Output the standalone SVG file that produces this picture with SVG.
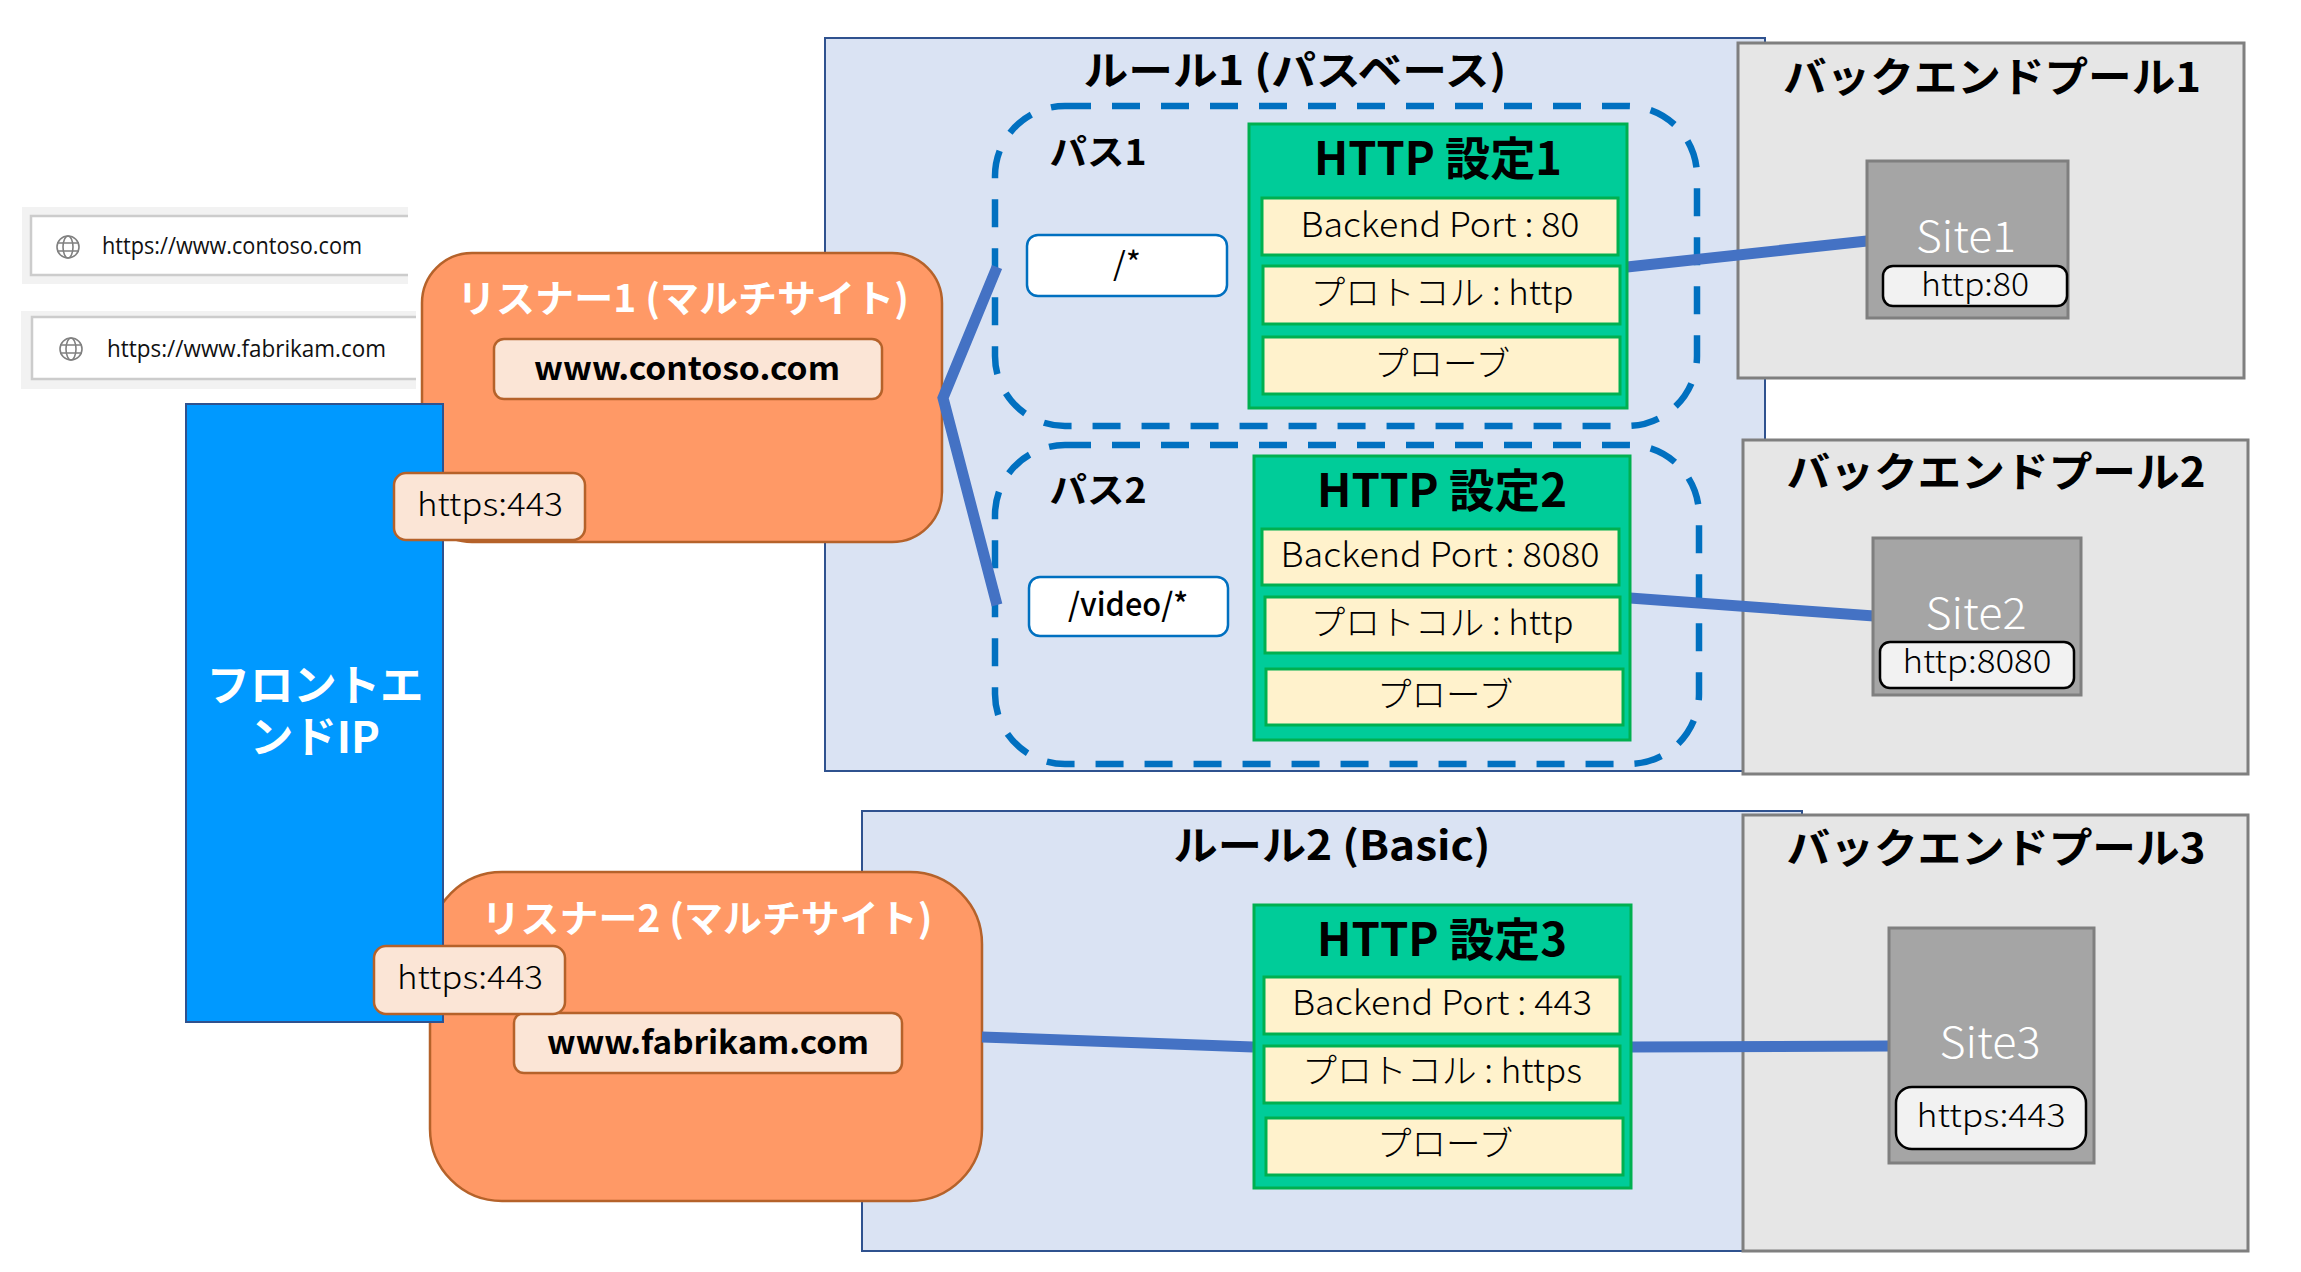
<svg xmlns="http://www.w3.org/2000/svg" width="2301" height="1272" viewBox="0 0 2301 1272">
<style>
text{font-family:"Noto Sans CJK JP","Noto Sans",sans-serif;text-anchor:middle;fill:#000}
.w{fill:#fff}
.b{font-weight:700}
.l{font-weight:300}
.rule{fill:#DAE3F3;stroke:#2F528F;stroke-width:2}
.pool{fill:#E6E6E6;stroke:#7F7F7F;stroke-width:3}
.site{fill:#A5A5A5;stroke:#7F7F7F;stroke-width:3}
.port{fill:#F2F2F2;stroke:#000;stroke-width:2.5}
.lis{fill:#FF9966;stroke:#B5622A;stroke-width:2.5}
.host{fill:#FBE5D6;stroke:#B5622A;stroke-width:2.5}
.dash{fill:none;stroke:#0070C0;stroke-width:6.5;stroke-dasharray:28 21;stroke-dashoffset:2}
.http{fill:#00CC99;stroke:#00B050;stroke-width:3}
.set{fill:#FFF2CC;stroke:#00B050;stroke-width:3}
.pat{fill:#fff;stroke:#0070C0;stroke-width:2.5}
.con{fill:none;stroke:#4472C4;stroke-width:11}
.bg{fill:#F2F2F2}
.bar{fill:#fff}
.edge{fill:none;stroke:#CCCCCC;stroke-width:2.5}
.url{font-family:"Open Sans","Noto Sans",sans-serif;text-anchor:start;fill:#111}
.gl{fill:none;stroke:#808080;stroke-width:1.6}
</style>
<g id="rule1"><rect class="rule" x="825" y="38" width="940" height="733"/><text class="b" x="1295" y="85" font-size="40" textLength="423" lengthAdjust="spacingAndGlyphs">ルール1 (パスベース)</text></g>
<g id="rule2"><rect class="rule" x="862" y="811" width="940" height="440"/><text class="b" x="1332" y="860" font-size="40" textLength="317" lengthAdjust="spacingAndGlyphs">ルール2 (Basic)</text></g>
<g id="pool1"><rect class="pool" x="1738" y="43" width="506" height="335"/><text class="b" x="1992" y="92" font-size="41" textLength="418" lengthAdjust="spacingAndGlyphs">バックエンドプール1</text></g>
<g id="pool2"><rect class="pool" x="1743" y="440" width="505" height="334"/><text class="b" x="1996" y="487" font-size="41" textLength="419" lengthAdjust="spacingAndGlyphs">バックエンドプール2</text></g>
<g id="pool3"><rect class="pool" x="1743" y="815" width="505" height="436"/><text class="b" x="1996" y="863" font-size="41" textLength="419" lengthAdjust="spacingAndGlyphs">バックエンドプール3</text></g>
<g id="path1"><rect class="dash" x="995" y="106" width="702" height="320" rx="70" ry="70"/><text class="b" x="1098" y="165" font-size="35" textLength="97" lengthAdjust="spacingAndGlyphs">パス1</text></g>
<g id="path2"><rect class="dash" x="995" y="445" width="704" height="319" rx="70" ry="70"/><text class="b" x="1098" y="503" font-size="35" textLength="97" lengthAdjust="spacingAndGlyphs">パス2</text></g>
<g id="url1"><rect class="bg" x="22" y="207" width="386" height="77"/><rect class="bar" x="31" y="216" width="377" height="59"/><path class="edge" d="M408 216H31V275H408"/><circle class="gl" cx="68" cy="247" r="11"/><ellipse class="gl" cx="68" cy="247" rx="5" ry="11"/><path class="gl" d="M57 243H79M57 251H79"/><text class="url" x="102" y="254" font-size="23" textLength="260" lengthAdjust="spacingAndGlyphs">https://www.contoso.com</text></g>
<g id="url2"><rect class="bg" x="21" y="311" width="395" height="78"/><rect class="bar" x="32" y="317" width="384" height="62"/><path class="edge" d="M416 317H32V379H416"/><circle class="gl" cx="71" cy="349" r="11"/><ellipse class="gl" cx="71" cy="349" rx="5" ry="11"/><path class="gl" d="M60 345H82M60 353H82"/><text class="url" x="107" y="357" font-size="23" textLength="279" lengthAdjust="spacingAndGlyphs">https://www.fabrikam.com</text></g>
<g id="listener1"><rect class="lis" x="422" y="253" width="520" height="289" rx="50" ry="50"/><text class="w b" x="683" y="312" font-size="38" textLength="452" lengthAdjust="spacingAndGlyphs">リスナー1 (マルチサイト)</text><rect class="host" x="494" y="339" width="388" height="60" rx="10"/><text class="b" x="687" y="380" font-size="32" textLength="306" lengthAdjust="spacingAndGlyphs">www.contoso.com</text></g>
<g id="listener2"><rect class="lis" x="430" y="872" width="552" height="329" rx="72" ry="72"/><text class="w b" x="707" y="932" font-size="38" textLength="451" lengthAdjust="spacingAndGlyphs">リスナー2 (マルチサイト)</text><rect class="host" x="514" y="1013" width="388" height="60" rx="10"/><text class="b" x="708" y="1054" font-size="32" textLength="322" lengthAdjust="spacingAndGlyphs">www.fabrikam.com</text></g>
<g id="frontend"><rect x="186" y="404" width="257" height="618" fill="#0099FF" stroke="#2F528F" stroke-width="2"/><text class="w b" x="315" y="701" font-size="43" textLength="217" lengthAdjust="spacingAndGlyphs">フロントエ</text><text class="w b" x="315" y="753" font-size="43" textLength="130" lengthAdjust="spacingAndGlyphs">ンドIP</text></g>
<g id="connectors">
<polyline class="con" points="997,267 943,398 997,605"/>
<line class="con" x1="1627" y1="267" x2="1867" y2="241"/>
<line class="con" x1="1630" y1="598" x2="1874" y2="616"/>
<line class="con" x1="982" y1="1037" x2="1253" y2="1047"/>
<line class="con" x1="1632" y1="1047" x2="1889" y2="1046"/>
</g>
<g id="port1"><rect class="host" x="394" y="473" width="191" height="67" rx="12"/><text x="490" y="516" font-size="32" class="l" textLength="146" lengthAdjust="spacingAndGlyphs">https:443</text></g>
<g id="port2"><rect class="host" x="374" y="946" width="191" height="68" rx="12"/><text x="470" y="989" font-size="32" class="l" textLength="146" lengthAdjust="spacingAndGlyphs">https:443</text></g>
<g id="pattern1"><rect class="pat" x="1027" y="235" width="200" height="61" rx="11"/><text x="1127" y="275" font-size="32" textLength="28" lengthAdjust="spacingAndGlyphs">/*</text></g>
<g id="pattern2"><rect class="pat" x="1029" y="577" width="199" height="59" rx="11"/><text x="1128" y="616" font-size="32" font-weight="500" textLength="120" lengthAdjust="spacingAndGlyphs">/video/*</text></g>
<g id="http1"><rect class="http" x="1249" y="124" width="378" height="284"/><text class="b" x="1438" y="175" font-size="46" textLength="248" lengthAdjust="spacingAndGlyphs">HTTP 設定1</text>
<rect class="set" x="1262" y="198" width="356" height="57"/><text class="l" x="1440" y="237" font-size="34" textLength="279" lengthAdjust="spacingAndGlyphs">Backend Port : 80</text>
<rect class="set" x="1263" y="266" width="357" height="58"/><text class="l" x="1442" y="305" font-size="34" textLength="263" lengthAdjust="spacingAndGlyphs">プロトコル : http</text>
<rect class="set" x="1263" y="337" width="357" height="57"/><text class="l" x="1442" y="376" font-size="34" textLength="136" lengthAdjust="spacingAndGlyphs">プローブ</text></g>
<g id="http2"><rect class="http" x="1254" y="456" width="376" height="284"/><text class="b" x="1442" y="507" font-size="46" textLength="250" lengthAdjust="spacingAndGlyphs">HTTP 設定2</text>
<rect class="set" x="1262" y="529" width="357" height="56"/><text class="l" x="1440" y="567" font-size="34" textLength="319" lengthAdjust="spacingAndGlyphs">Backend Port : 8080</text>
<rect class="set" x="1265" y="597" width="355" height="56"/><text class="l" x="1442" y="635" font-size="34" textLength="263" lengthAdjust="spacingAndGlyphs">プロトコル : http</text>
<rect class="set" x="1266" y="669" width="357" height="56"/><text class="l" x="1445" y="707" font-size="34" textLength="136" lengthAdjust="spacingAndGlyphs">プローブ</text></g>
<g id="http3"><rect class="http" x="1254" y="905" width="377" height="283"/><text class="b" x="1442" y="956" font-size="46" textLength="250" lengthAdjust="spacingAndGlyphs">HTTP 設定3</text>
<rect class="set" x="1264" y="977" width="356" height="57"/><text class="l" x="1442" y="1015" font-size="34" textLength="300" lengthAdjust="spacingAndGlyphs">Backend Port : 443</text>
<rect class="set" x="1264" y="1046" width="356" height="57"/><text class="l" x="1442" y="1083" font-size="34" textLength="280" lengthAdjust="spacingAndGlyphs">プロトコル : https</text>
<rect class="set" x="1266" y="1118" width="357" height="57"/><text class="l" x="1445" y="1156" font-size="34" textLength="136" lengthAdjust="spacingAndGlyphs">プローブ</text></g>
<g id="site1"><rect class="site" x="1867" y="161" width="201" height="157"/><text class="w l" x="1966" y="252" font-size="43" textLength="100" lengthAdjust="spacingAndGlyphs">Site1</text><rect class="port" x="1883" y="266" width="184" height="40" rx="10"/><text class="l" x="1975" y="296" font-size="32" textLength="108" lengthAdjust="spacingAndGlyphs">http:80</text></g>
<g id="site2"><rect class="site" x="1873" y="538" width="208" height="157"/><text class="w l" x="1976" y="629" font-size="43" textLength="101" lengthAdjust="spacingAndGlyphs">Site2</text><rect class="port" x="1880" y="642" width="194" height="46" rx="10"/><text class="l" x="1977" y="673" font-size="32" textLength="149" lengthAdjust="spacingAndGlyphs">http:8080</text></g>
<g id="site3"><rect class="site" x="1889" y="928" width="205" height="235"/><text class="w l" x="1990" y="1058" font-size="43" textLength="101" lengthAdjust="spacingAndGlyphs">Site3</text><rect class="port" x="1896" y="1087" width="190" height="62" rx="16"/><text class="l" x="1991" y="1127" font-size="32" textLength="149" lengthAdjust="spacingAndGlyphs">https:443</text></g>
</svg>
